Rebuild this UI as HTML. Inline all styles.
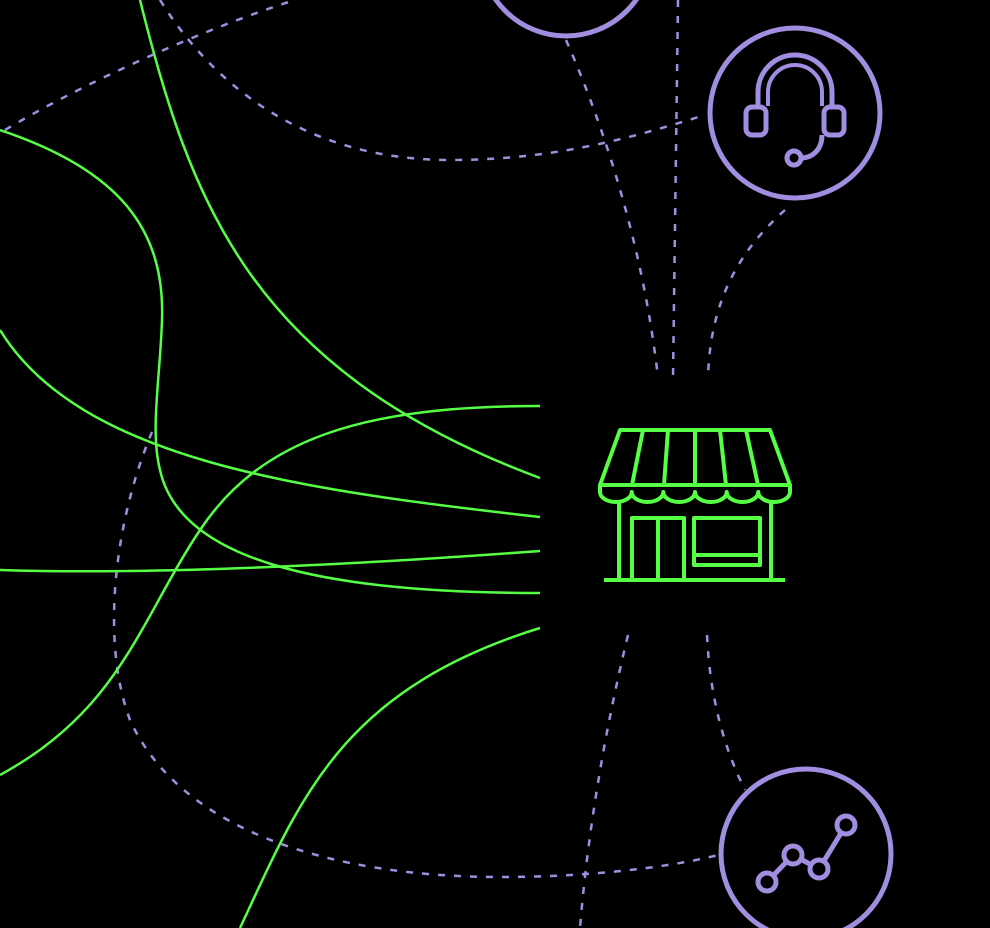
<!DOCTYPE html>
<html><head><style>html,body{margin:0;padding:0;background:#000;}svg{display:block}</style></head>
<body>
<svg width="990" height="928" viewBox="0 0 990 928" xmlns="http://www.w3.org/2000/svg">
<rect width="990" height="928" fill="#000"/>
<g fill="none" stroke="#a18ee0" stroke-width="2.5" stroke-dasharray="7 9">
<path d="M160,0 C210,80 300,160 450,160 C560,160 640,135 705,115"/>
<path d="M5,130 C80,85 200,30 295,0"/>
<path d="M152,432 C115,520 100,640 130,720 C180,830 330,877 500,877 C600,877 680,865 718,855"/>
<path d="M678,0 L673,378"/>
<path d="M566,40 C610,140 645,260 658,378"/>
<path d="M785,210 C740,250 710,300 708,378"/>
<path d="M628,635 C605,730 588,830 580,928"/>
<path d="M707,635 C710,700 725,750 745,790"/>
</g>
<g fill="none" stroke="#55ff44" stroke-width="2.5">
<path d="M140,0 C190,200 250,370 540,478"/>
<path d="M0,130 C120,170 165,230 162,320 C160,380 150,430 160,470 C180,560 320,593 540,593"/>
<path d="M0,330 C80,460 300,490 540,517"/>
<path d="M0,570 C150,575 350,565 540,551"/>
<path d="M0,775 C120,710 140,620 200,530 C260,440 360,406 540,406"/>
<path d="M240,928 C300,800 340,690 540,628"/>
</g>
<g fill="none" stroke="#a18ee0" stroke-width="5">
<circle cx="566" cy="-50" r="86"/>
<circle cx="795" cy="113" r="85"/>
<circle cx="806" cy="854" r="85"/>
<path d="M758,108 L758,92 A37,37 0 0 1 832,92 L832,108"/>
<path d="M768,106 L768,92 A27,27 0 0 1 822,92 L822,106" stroke-width="4"/>
<rect x="746" y="107" width="20" height="28" rx="6"/>
<rect x="824" y="107" width="20" height="28" rx="6"/>
<path d="M822,135 C822,150 812,158 801,158"/>
<circle cx="794" cy="158" r="7"/>
<path d="M767,882 L793,855 L819,869 L846,825" />
<circle cx="767" cy="882" r="9" fill="#000"/>
<circle cx="793" cy="855" r="9" fill="#000"/>
<circle cx="819" cy="869" r="9" fill="#000"/>
<circle cx="846" cy="825" r="9" fill="#000"/>
</g>
<g fill="none" stroke="#55ff44" stroke-width="4" stroke-linejoin="round">
<path d="M620,430 L770,430 L790,485 L600,485 Z"/>
<path d="M643,430 L632,485 M668,430 L664,485 M695,430 L695,485 M720,430 L726,485 M746,430 L758,485"/>
<path d="M600,485 L600,492 A15.8,10 0 0 0 631.7,492 A15.8,10 0 0 0 663.3,492 A15.8,10 0 0 0 695,492 A15.8,10 0 0 0 726.7,492 A15.8,10 0 0 0 758.3,492 A15.8,10 0 0 0 790,492 L790,485"/>
<path d="M619,500 L619,580 M771,500 L771,580"/>
<path d="M604,580 L785,580"/>
<rect x="632" y="518" width="52" height="62"/>
<path d="M658,518 L658,580"/>
<rect x="694" y="518" width="66" height="47"/>
<path d="M694,555 L760,555"/>
</g>
</svg>
</body></html>
